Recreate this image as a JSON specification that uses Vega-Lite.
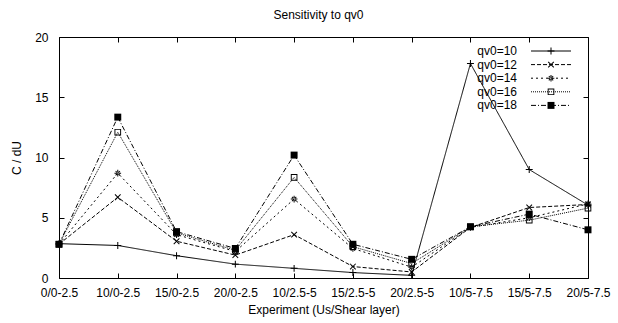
{
  "$schema": "https://vega.github.io/schema/vega-lite/v6.json",
  "width": 529,
  "height": 241,
  "autosize": "none",
  "padding": {"left": 59, "top": 37, "right": 30, "bottom": 45},
  "background": "white",
  "title": {"text": "Sensitivity to qv0", "font": "Liberation Sans", "fontSize": 12, "fontWeight": "normal", "color": "black", "baseline": "alphabetic", "offset": 16, "dx": -5, "dy": 16},
  "config": {
    "view": {"stroke": "black", "strokeWidth": 1},
    "axis": {"grid": false, "domain": false, "tickColor": "black", "tickWidth": 1, "tickSize": -5, "labelFont": "Liberation Sans", "labelFontSize": 12, "labelColor": "black", "titleFont": "Liberation Sans", "titleFontSize": 12, "titleFontWeight": "normal", "titleColor": "black"},
    "legend": {"orient": "none", "labelFont": "Liberation Sans", "labelFontSize": 12, "labelColor": "black", "labelAlign": "right", "symbolSize": 40, "symbolStrokeColor": "black", "symbolStrokeWidth": 1, "rowPadding": 1.6, "padding": 0, "legendX": 486, "legendY": 8, "labelOffset": -40}
  },
  "data": {"values": [
    {"exp": "0/0-2.5", "series": "qv0=10", "C": 2.85},
    {"exp": "10/0-2.5", "series": "qv0=10", "C": 2.7},
    {"exp": "15/0-2.5", "series": "qv0=10", "C": 1.85},
    {"exp": "20/0-2.5", "series": "qv0=10", "C": 1.15},
    {"exp": "10/2.5-5", "series": "qv0=10", "C": 0.8},
    {"exp": "15/2.5-5", "series": "qv0=10", "C": 0.45},
    {"exp": "20/2.5-5", "series": "qv0=10", "C": 0.22},
    {"exp": "10/5-7.5", "series": "qv0=10", "C": 17.8},
    {"exp": "15/5-7.5", "series": "qv0=10", "C": 9.0},
    {"exp": "20/5-7.5", "series": "qv0=10", "C": 6.05},
    {"exp": "0/0-2.5", "series": "qv0=12", "C": 2.8},
    {"exp": "10/0-2.5", "series": "qv0=12", "C": 6.7},
    {"exp": "15/0-2.5", "series": "qv0=12", "C": 3.05},
    {"exp": "20/0-2.5", "series": "qv0=12", "C": 1.9},
    {"exp": "10/2.5-5", "series": "qv0=12", "C": 3.6},
    {"exp": "15/2.5-5", "series": "qv0=12", "C": 0.95},
    {"exp": "20/2.5-5", "series": "qv0=12", "C": 0.5},
    {"exp": "10/5-7.5", "series": "qv0=12", "C": 4.2},
    {"exp": "15/5-7.5", "series": "qv0=12", "C": 5.85},
    {"exp": "20/5-7.5", "series": "qv0=12", "C": 6.1},
    {"exp": "0/0-2.5", "series": "qv0=14", "C": 2.8},
    {"exp": "10/0-2.5", "series": "qv0=14", "C": 8.7},
    {"exp": "15/0-2.5", "series": "qv0=14", "C": 3.6},
    {"exp": "20/0-2.5", "series": "qv0=14", "C": 2.2},
    {"exp": "10/2.5-5", "series": "qv0=14", "C": 6.55},
    {"exp": "15/2.5-5", "series": "qv0=14", "C": 2.45},
    {"exp": "20/2.5-5", "series": "qv0=14", "C": 0.9},
    {"exp": "10/5-7.5", "series": "qv0=14", "C": 4.2},
    {"exp": "15/5-7.5", "series": "qv0=14", "C": 5.0},
    {"exp": "20/5-7.5", "series": "qv0=14", "C": 6.15},
    {"exp": "0/0-2.5", "series": "qv0=16", "C": 2.8},
    {"exp": "10/0-2.5", "series": "qv0=16", "C": 12.1},
    {"exp": "15/0-2.5", "series": "qv0=16", "C": 3.75},
    {"exp": "20/0-2.5", "series": "qv0=16", "C": 2.3},
    {"exp": "10/2.5-5", "series": "qv0=16", "C": 8.35},
    {"exp": "15/2.5-5", "series": "qv0=16", "C": 2.6},
    {"exp": "20/2.5-5", "series": "qv0=16", "C": 1.2},
    {"exp": "10/5-7.5", "series": "qv0=16", "C": 4.25},
    {"exp": "15/5-7.5", "series": "qv0=16", "C": 4.8},
    {"exp": "20/5-7.5", "series": "qv0=16", "C": 5.8},
    {"exp": "0/0-2.5", "series": "qv0=18", "C": 2.8},
    {"exp": "10/0-2.5", "series": "qv0=18", "C": 13.35},
    {"exp": "15/0-2.5", "series": "qv0=18", "C": 3.85},
    {"exp": "20/0-2.5", "series": "qv0=18", "C": 2.45},
    {"exp": "10/2.5-5", "series": "qv0=18", "C": 10.2},
    {"exp": "15/2.5-5", "series": "qv0=18", "C": 2.8},
    {"exp": "20/2.5-5", "series": "qv0=18", "C": 1.55},
    {"exp": "10/5-7.5", "series": "qv0=18", "C": 4.25},
    {"exp": "15/5-7.5", "series": "qv0=18", "C": 5.3},
    {"exp": "20/5-7.5", "series": "qv0=18", "C": 4.0}
  ]},
  "resolve": {"axis": {"x": "independent", "y": "independent"}},
  "layer": [
    {
      "mark": {"type": "line", "color": "black", "strokeWidth": 1},
      "encoding": {
        "x": {"field": "exp", "type": "ordinal", "sort": ["0/0-2.5","10/0-2.5","15/0-2.5","20/0-2.5","10/2.5-5","15/2.5-5","20/2.5-5","10/5-7.5","15/5-7.5","20/5-7.5"], "scale": {"type": "point", "padding": 0}, "axis": {"orient": "bottom", "title": "Experiment (Us/Shear layer)", "labelAngle": 0, "labelPadding": 14, "labelOverlap": false, "titlePadding": 6}},
        "y": {"field": "C", "type": "quantitative", "scale": {"domain": [0, 20], "nice": false}, "axis": {"orient": "left", "title": "C / dU", "values": [0, 5, 10, 15, 20], "labelPadding": 16, "titlePadding": 11}},
        "strokeDash": {"field": "series", "type": "nominal", "scale": {"domain": ["qv0=10","qv0=12","qv0=14","qv0=16","qv0=18"], "range": [[1, 0], [4, 2], [2, 3], [1, 1], [5, 2, 1, 2]]}, "legend": {"title": null, "symbolType": "M-6.32,0L6.32,0"}}
      }
    },
    {
      "mark": {"type": "point", "size": 40, "filled": true, "fill": "black", "strokeWidth": 0, "opacity": 1},
      "encoding": {
        "x": {"field": "exp", "type": "ordinal", "sort": ["0/0-2.5","10/0-2.5","15/0-2.5","20/0-2.5","10/2.5-5","15/2.5-5","20/2.5-5","10/5-7.5","15/5-7.5","20/5-7.5"], "scale": {"type": "point", "padding": 0}, "axis": {"orient": "top", "title": null, "labels": false}},
        "y": {"field": "C", "type": "quantitative", "scale": {"domain": [0, 20], "nice": false}, "axis": {"orient": "right", "title": null, "labels": false, "values": [0, 5, 10, 15, 20]}},
        "shape": {"field": "series", "type": "nominal", "scale": {"range": [
          "M-1.1,-0.16H1.1V0.16H-1.1Z M-0.16,-1.1H0.16V1.1H-0.16Z",
          "M-1,-0.78L0.78,1L1,0.78L-0.78,-1Z M-1,0.78L-0.78,1L1,-0.78L0.78,-1Z",
          "M-1.05,-0.16H1.05V0.16H-1.05Z M-0.16,-1.05H0.16V1.05H-0.16Z M-0.8,-0.58L0.58,0.8L0.8,0.58L-0.58,-0.8Z M-0.8,0.58L-0.58,0.8L0.8,-0.58L0.58,-0.8Z",
          "M-1.05,-1.05H1.05V1.05H-1.05Z M-0.75,-0.75V0.75H0.75V-0.75Z",
          "M-1.1,-1.1H1.1V1.1H-1.1Z"
        ]}, "legend": {"title": null, "labelOpacity": 0, "symbolFillColor": "black", "symbolStrokeWidth": 0}}
      }
    }
  ]
}
